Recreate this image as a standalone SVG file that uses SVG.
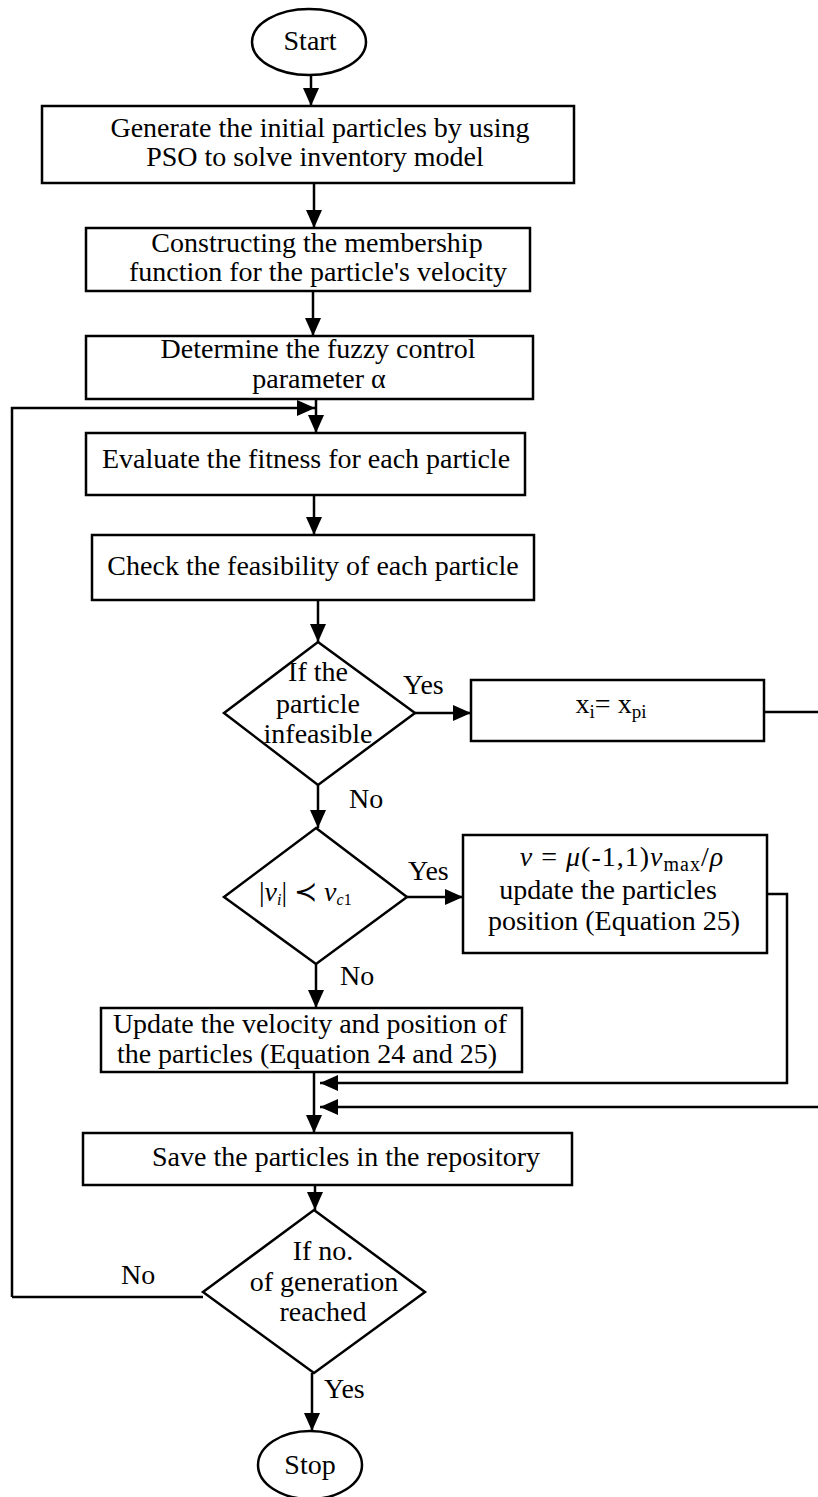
<svg xmlns="http://www.w3.org/2000/svg" width="818" height="1497" viewBox="0 0 818 1497" font-family="'Liberation Serif', 'DejaVu Serif', serif">
<defs>
<marker id="ah" viewBox="0 0 18 16" refX="18" refY="8" markerWidth="18" markerHeight="16" markerUnits="userSpaceOnUse" orient="auto">
<path d="M0,0 L18,8 L0,16 Z" fill="#000"/>
</marker>
<style>
.n{fill:#fff;stroke:#000;stroke-width:2.5}
.c{fill:none;stroke:#000;stroke-width:2.5}
.a{marker-end:url(#ah)}
text{font-family:'Liberation Serif','DejaVu Serif',serif;font-size:28px;fill:#000}
.m{text-anchor:middle}
.i{font-style:italic}
</style>
</defs>
<rect width="818" height="1497" fill="#fff"/>
<g id="connectors">
<path class="c a" d="M311,75 V106"/>
<path class="c a" d="M314,183 V228"/>
<path class="c a" d="M313,291 V336"/>
<path class="c a" d="M316,399 V433"/>
<path class="c a" d="M12,1297 H12 V408 H315"/>
<path class="c" d="M203,1297 H12"/>
<path class="c a" d="M314,495 V535"/>
<path class="c a" d="M318,600 V642"/>
<path class="c a" d="M415,713 H471"/>
<path class="c a" d="M764,712 H820 V1107 H320"/>
<path class="c a" d="M318,785 V828"/>
<path class="c a" d="M407,897 H463"/>
<path class="c a" d="M767,894 H787 V1083 H320"/>
<path class="c a" d="M316,964 V1008"/>
<path class="c a" d="M314,1072 V1133"/>
<path class="c a" d="M315,1185 V1210"/>
<path class="c a" d="M312,1373 V1431"/>
<text x="403" y="694">Yes</text>
<text x="349" y="808">No</text>
<text x="408" y="880">Yes</text>
<text x="340" y="985">No</text>
<text x="121" y="1284">No</text>
<text x="324" y="1398">Yes</text>
</g>
<g id="start">
<ellipse class="n" cx="309" cy="42" rx="57" ry="33"/>
<text class="m" x="310" y="50">Start</text>
</g>
<g id="generate">
<rect class="n" x="42" y="106" width="532" height="77"/>
<text class="m" x="320" y="137">Generate the initial particles by using</text>
<text class="m" x="315" y="166">PSO to solve inventory model</text>
</g>
<g id="membership">
<rect class="n" x="86" y="228" width="444" height="63"/>
<text class="m" x="317" y="252">Constructing the membership</text>
<text class="m" x="318" y="281">function for the particle's velocity</text>
</g>
<g id="fuzzy">
<rect class="n" x="86" y="336" width="447" height="63"/>
<text class="m" x="318" y="358">Determine the fuzzy control</text>
<text class="m" x="319" y="388">parameter α</text>
</g>
<g id="evaluate">
<rect class="n" x="86" y="433" width="439" height="62"/>
<text class="m" x="306" y="468">Evaluate the fitness for each particle</text>
</g>
<g id="check">
<rect class="n" x="92" y="535" width="442" height="65"/>
<text class="m" x="313" y="575">Check the feasibility of each particle</text>
</g>
<g id="infeasible">
<polygon class="n" points="318,642 415,713 318,785 224,713"/>
<text class="m" x="318" y="681">If the</text>
<text class="m" x="318" y="713">particle</text>
<text class="m" x="318" y="743">infeasible</text>
</g>
<g id="xbox">
<rect class="n" x="471" y="680" width="293" height="61"/>
<text class="m" x="611" y="713">x<tspan font-size="19" dy="5">i</tspan><tspan dy="-5">= x</tspan><tspan font-size="19" dy="5">pi</tspan></text>
</g>
<g id="velcheck">
<polygon class="n" points="316,828 407,897 316,964 224,897"/>
<text x="259" y="901" font-size="25">|<tspan class="i">ν</tspan><tspan class="i" font-size="16" dy="4">i</tspan><tspan dy="-4">| ≺ </tspan><tspan class="i">ν</tspan><tspan class="i" font-size="16" dy="4">c</tspan><tspan font-size="16">1</tspan></text>
</g>
<g id="vbox">
<rect class="n" x="463" y="835" width="304" height="118"/>
<text class="m" x="622" y="866" font-size="30" letter-spacing="1"><tspan class="i">v</tspan> = <tspan class="i">μ</tspan>(-1,1)<tspan class="i">v</tspan><tspan font-size="20" dy="5">max</tspan><tspan dy="-5">/</tspan><tspan class="i">ρ</tspan></text>
<text class="m" x="608" y="899">update the particles</text>
<text class="m" x="614" y="930">position (Equation 25)</text>
</g>
<g id="update">
<rect class="n" x="101" y="1008" width="421" height="64"/>
<text class="m" x="310" y="1033">Update the velocity and position of</text>
<text class="m" x="307" y="1063">the particles (Equation 24 and 25)</text>
</g>
<g id="save">
<rect class="n" x="83" y="1133" width="489" height="52"/>
<text class="m" x="346" y="1166">Save the particles in the repository</text>
</g>
<g id="generation">
<polygon class="n" points="314,1210 425,1292 314,1373 203,1292"/>
<text class="m" x="323" y="1260">If no.</text>
<text class="m" x="324" y="1291">of generation</text>
<text class="m" x="323" y="1321">reached</text>
</g>
<g id="stop">
<ellipse class="n" cx="310" cy="1465" rx="52" ry="34"/>
<text class="m" x="310" y="1474">Stop</text>
</g>
</svg>
